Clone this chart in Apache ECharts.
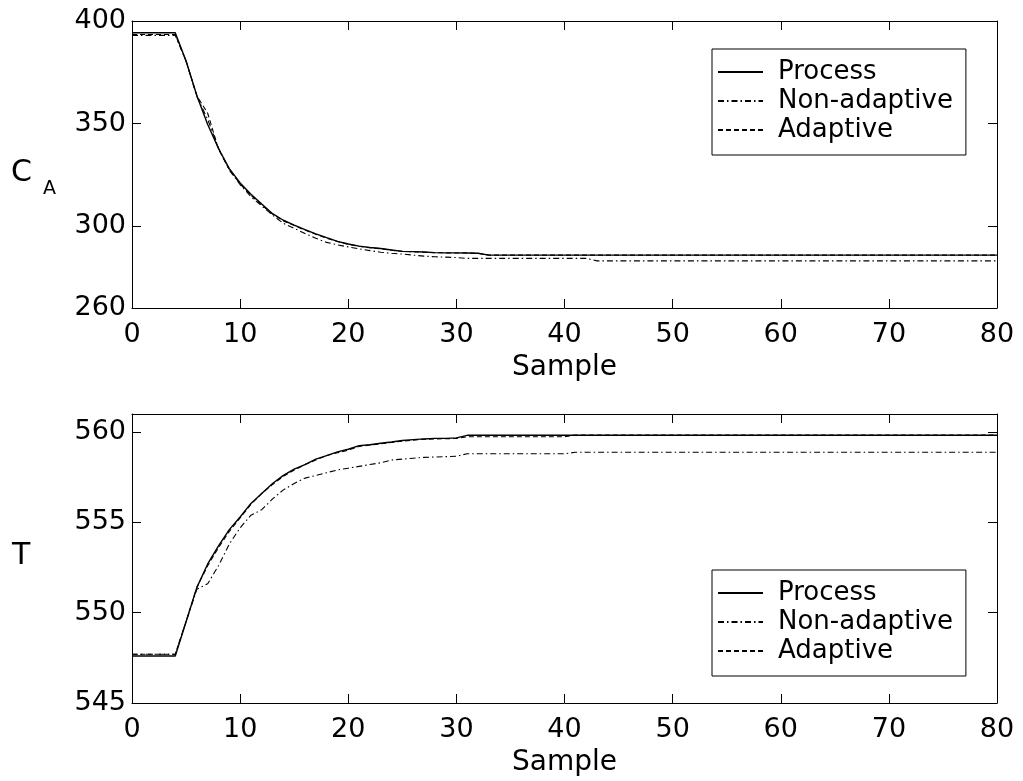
<!DOCTYPE html>
<html><head><meta charset="utf-8">
<script src="https://cdn.jsdelivr.net/npm/echarts@6/dist/echarts.min.js"></script>
<style>html,body{margin:0;padding:0;background:#fff}#c{width:1023px;height:781px}</style>
</head><body><div id="c"></div>
<script>
const seriesNames = ['Process', 'Non-adaptive', 'Adaptive'];
const xTicks = [0, 10, 20, 30, 40, 50, 60, 70, 80];
const caTicks = [260, 300, 350, 400];
const tTicks = [545, 550, 555, 560];

// Top panel: C_A
const caProcess = [394.3,394.3,394.3,394.3,394.3,380.5,363.5,349.5,337.8,328,321,315.5,310.7,306,302.8,300.4,298.2,296.2,294.3,292.5,291.2,290.2,289.5,289.0,288.3,287.6,287.5,287.3,287.0,286.9,286.9,286.8,286.7,
285.8,285.8,285.8,285.8,285.8,285.8,285.8,285.8,285.8,285.8,285.8,285.8,285.8,285.8,285.8,285.8,285.8,285.8,285.8,285.8,285.8,285.8,285.8,285.8,285.8,285.8,285.8,285.8,285.8,285.8,285.8,285.8,285.8,285.8,285.8,285.8,285.8,285.8,285.8,285.8,285.8,285.8,285.8,285.8,285.8,285.8,285.8,285.8];
const caNonAdaptive = [393.0,393.0,393.0,393.0,393.0,380.5,363.2,352,338,327.3,320.2,314.3,309.8,305.3,301.3,298.9,296.3,294,292,290.8,289.8,288.9,288,287.2,286.7,286.3,285.8,285.3,285,284.8,284.6,
284.2,284.2,284.2,284.2,284.2,284.2,284.2,284.2,284.2,284.2,284.2,284.2,
283.0,283.0,283.0,283.0,283.0,283.0,283.0,283.0,283.0,283.0,283.0,283.0,283.0,283.0,283.0,283.0,283.0,283.0,283.0,283.0,283.0,283.0,283.0,283.0,283.0,283.0,283.0,283.0,283.0,283.0,283.0,283.0,283.0,283.0,283.0,283.0,283.0,283.0];
const caAdaptive = [393.4,393.4,393.4,393.4,393.4,380.5,363.5,355,337.5,327.5,320.5,315,310.2,305.8,302.5,300.2,298,296,294.1,292.4,291.1,290.1,289.4,288.9,288.2,287.6,287.4,287.2,287.0,286.9,286.8,286.8,286.7,
285.8,285.8,285.8,285.8,285.8,285.8,285.8,285.8,285.8,285.8,285.8,285.8,285.8,285.8,285.8,285.8,285.8,285.8,285.8,285.8,285.8,285.8,285.8,285.8,285.8,285.8,285.8,285.8,285.8,285.8,285.8,285.8,285.8,285.8,285.8,285.8,285.8,285.8,285.8,285.8,285.8,285.8,285.8,285.8,285.8,285.8,285.8,285.8];

// Bottom panel: T
const tProcess = [547.6,547.6,547.6,547.6,547.6,549.5,551.4,552.7,553.7,554.6,555.3,556.05,556.6,557.15,557.6,557.95,558.2,558.5,558.7,558.9,559.05,559.25,559.3,559.38,559.45,559.53,559.58,559.62,559.65,559.65,559.68,
559.82,559.82,559.82,559.82,559.82,559.82,559.82,559.82,559.82,559.82,559.82,559.82,559.82,559.82,559.82,559.82,559.82,559.82,559.82,559.82,559.82,559.82,559.82,559.82,559.82,559.82,559.82,559.82,559.82,559.82,559.82,559.82,559.82,559.82,559.82,559.82,559.82,559.82,559.82,559.82,559.82,559.82,559.82,559.82,559.82,559.82,559.82,559.82,559.82,559.82];
const tNonAdaptive = [547.7,547.7,547.7,547.7,547.7,549.5,551.3,551.6,552.6,553.8,554.7,555.4,555.7,556.3,556.8,557.15,557.45,557.6,557.75,557.9,558.0,558.1,558.2,558.3,558.45,558.5,558.55,558.6,558.62,558.64,558.66,
558.8,558.8,558.8,558.8,558.8,558.8,558.8,558.8,558.8,558.8,
558.88,558.88,558.88,558.88,558.88,558.88,558.88,558.88,558.88,558.88,558.88,558.88,558.88,558.88,558.88,558.88,558.88,558.88,558.88,558.88,558.88,558.88,558.88,558.88,558.88,558.88,558.88,558.88,558.88,558.88,558.88,558.88,558.88,558.88,558.88,558.88,558.88,558.88,558.88,558.88];
const tAdaptive = [547.7,547.7,547.7,547.7,547.7,549.5,551.4,552.6,553.6,554.5,555.25,556.0,556.6,557.1,557.55,557.9,558.2,558.45,558.7,558.85,559.0,559.2,559.28,559.35,559.42,559.5,559.55,559.6,559.62,559.63,559.65,
559.74,559.74,559.74,559.74,559.74,559.74,559.74,559.74,559.74,559.74,
559.84,559.84,559.84,559.84,559.84,559.84,559.84,559.84,559.84,559.84,559.84,559.84,559.84,559.84,559.84,559.84,559.84,559.84,559.84,559.84,559.84,559.84,559.84,559.84,559.84,559.84,559.84,559.84,559.84,559.84,559.84,559.84,559.84,559.84,559.84,559.84,559.84,559.84,559.84,559.84];

const FONT = "'DejaVu Sans', 'Liberation Sans', Arial, sans-serif";
const toXY = arr => arr.map((v, i) => [i, v]);
const styles = {
  'Process': { type: 'solid', width: 1.4 },
  'Non-adaptive': { type: [6, 3, 1.5, 3], width: 1.1 },
  'Adaptive': { type: [5, 3], width: 1.1 }
};
const axisLine = { show: true, onZero: false, lineStyle: { color: '#000', width: 1 } };

function xAxes(gridIndex) {
  return [
    { type: 'value', gridIndex, min: 0, max: 80, interval: 10, position: 'bottom',
      axisLine, splitLine: { show: false },
      axisTick: { inside: true, length: 9, lineStyle: { color: '#000' } },
      axisLabel: { color: '#000', fontSize: 27, fontFamily: FONT, margin: 13, customValues: xTicks },
      name: 'Sample', nameLocation: 'middle', nameGap: 46,
      nameTextStyle: { color: '#000', fontSize: 28, fontFamily: FONT } },
    { type: 'value', gridIndex, min: 0, max: 80, interval: 10, position: 'top',
      axisLine, splitLine: { show: false },
      axisTick: { inside: true, length: 9, lineStyle: { color: '#000' } },
      axisLabel: { show: false } }
  ];
}
function yAxes(gridIndex, min, max, ticks) {
  return [
    { type: 'value', gridIndex, min, max, position: 'left',
      axisLine, splitLine: { show: false },
      axisTick: { inside: true, length: 9, customValues: ticks, lineStyle: { color: '#000' } },
      axisLabel: { color: '#000', fontSize: 27, fontFamily: FONT, margin: 6, customValues: ticks } },
    { type: 'value', gridIndex, min, max, position: 'right',
      axisLine, splitLine: { show: false },
      axisTick: { inside: true, length: 9, customValues: ticks, lineStyle: { color: '#000' } },
      axisLabel: { show: false } }
  ];
}
function mkSeries(name, data, ax) {
  return { name, type: 'line', data: toXY(data), xAxisIndex: ax, yAxisIndex: ax,
    showSymbol: false, symbol: 'none', animation: false,
    lineStyle: Object.assign({ color: '#000' }, styles[name]), itemStyle: { color: '#000' } };
}
function legend(top) {
  return { left: 712, top, orient: 'vertical', data: seriesNames,
    borderColor: '#000', borderWidth: 1, padding: [10, 13, 12, 5], itemGap: 3,
    itemWidth: 45, itemHeight: 14, selectedMode: false,
    itemStyle: { opacity: 0 },
    textStyle: { color: '#000', fontSize: 26, fontFamily: FONT, padding: [0, 0, 0, 10] } };
}

const chart = echarts.init(document.getElementById('c'), null, { renderer: 'canvas' });
chart.setOption({
  animation: false,
  backgroundColor: '#fff',
  grid: [
    { left: 132, right: 26, top: 21, height: 287 },
    { left: 132, right: 26, top: 414, height: 289 }
  ],
  xAxis: [...xAxes(0), ...xAxes(1)],
  yAxis: [...yAxes(0, 260, 400, caTicks), ...yAxes(1, 545, 561, tTicks)],
  legend: [legend(49), legend(570)],
  graphic: [
    { type: 'text', left: 11, top: 158, style: { text: 'C', font: '30px ' + FONT, fill: '#000' } },
    { type: 'text', left: 43, top: 180, style: { text: 'A', font: '19px ' + FONT, fill: '#000' } },
    { type: 'text', left: 12, top: 541, style: { text: 'T', font: '30px ' + FONT, fill: '#000' } }
  ],
  series: [
    mkSeries('Process', caProcess, 0),
    mkSeries('Non-adaptive', caNonAdaptive, 0),
    mkSeries('Adaptive', caAdaptive, 0),
    mkSeries('Process', tProcess, 2),
    mkSeries('Non-adaptive', tNonAdaptive, 2),
    mkSeries('Adaptive', tAdaptive, 2)
  ]
});
</script></body></html>
